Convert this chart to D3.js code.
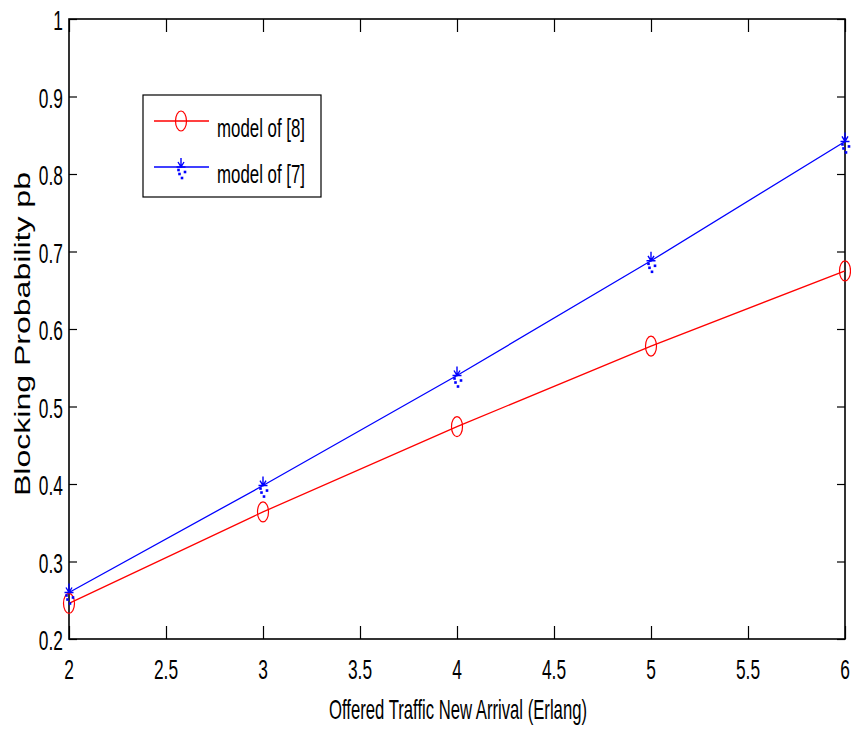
<!DOCTYPE html>
<html>
<head>
<meta charset="utf-8">
<script src="https://d3js.org/d3.v7.min.js"></script>
<style>
  body { margin: 0; background: #fff; }
  text { font-family: "Liberation Sans", Arial, sans-serif; fill: #000; }
</style>
</head>
<body>
<div id="chart"></div>
<script>
  // ---- data ----
  var traffic = [2, 3, 4, 5, 6];
  var model8 = [0.246, 0.364, 0.474, 0.578, 0.675];
  var model7 = [0.260, 0.398, 0.540, 0.688, 0.842];
  var xTicks = [2, 2.5, 3, 3.5, 4, 4.5, 5, 5.5, 6];
  var yTicks = [0.2, 0.3, 0.4, 0.5, 0.6, 0.7, 0.8, 0.9, 1];
  var legendNames = ["model of [8]", "model of [7]"];

  var W = 851, H = 730;
  var margin = { top: 19, right: 6, bottom: 91, left: 69 };
  var width = W - margin.left - margin.right,
    height = H - margin.top - margin.bottom;

  var svg = d3.select("#chart").append("svg")
    .attr("width", W)
    .attr("height", H);

  var g = svg.append("g")
    .attr("transform", "translate(" + margin.left + "," + margin.top + ")");

  var x = d3.scaleLinear().domain([2, 6]).range([0, width]);
  var y = d3.scaleLinear().domain([0.2, 1]).range([height, 0]);

  // inward ticks on all four sides, labels drawn separately
  function styleAxis(sel) {
    sel.select(".domain").remove();
    sel.selectAll(".tick line").attr("stroke", "#000").attr("stroke-width", 1.2);
  }
  g.append("g").attr("transform", "translate(0," + height + ")")
    .call(d3.axisBottom(x).tickValues(xTicks).tickSize(-13).tickFormat("")).call(styleAxis);
  g.append("g")
    .call(d3.axisTop(x).tickValues(xTicks).tickSize(-13).tickFormat("")).call(styleAxis);
  g.append("g")
    .call(d3.axisLeft(y).tickValues(yTicks).tickSize(-8).tickFormat("")).call(styleAxis);
  g.append("g").attr("transform", "translate(" + width + ",0)")
    .call(d3.axisRight(y).tickValues(yTicks).tickSize(-8).tickFormat("")).call(styleAxis);

  g.append("rect")
    .attr("width", width)
    .attr("height", height)
    .attr("fill", "none")
    .attr("stroke", "#000")
    .attr("stroke-width", 1.6);

  // condensed tick labels
  function label(parent, px, py, str, size, anchor, sx) {
    return parent.append("text")
      .attr("transform", "translate(" + px + "," + py + ") scale(" + sx + ",1)")
      .attr("text-anchor", anchor)
      .style("font-size", size + "px")
      .text(str);
  }
  xTicks.forEach(function(d) {
    label(g, x(d), height + 40, d, 28, "middle", 0.62);
  });
  yTicks.forEach(function(d) {
    label(g, -6, y(d) + 11, d, 28, "end", 0.62);
  });

  // axis titles
  svg.append("text")
    .attr("x", margin.left + width / 2 + 1)
    .attr("y", 719)
    .attr("text-anchor", "middle")
    .attr("textLength", 258)
    .attr("lengthAdjust", "spacingAndGlyphs")
    .style("font-size", "28px")
    .text("Offered Traffic New Arrival (Erlang)");

  svg.append("text")
    .attr("transform", "translate(30,334) rotate(-90)")
    .attr("text-anchor", "middle")
    .attr("textLength", 324)
    .attr("lengthAdjust", "spacingAndGlyphs")
    .style("font-size", "22px")
    .text("Blocking Probability pb");

  // series
  var pts8 = traffic.map(function(d, i) { return [d, model8[i]]; });
  var pts7 = traffic.map(function(d, i) { return [d, model7[i]]; });
  var line = d3.line().x(function(d) { return x(d[0]); }).y(function(d) { return y(d[1]); });

  g.append("path").datum(pts8).attr("d", line)
    .attr("fill", "none").attr("stroke", "#ff0000").attr("stroke-width", 1.3);
  g.append("path").datum(pts7).attr("d", line)
    .attr("fill", "none").attr("stroke", "#0000ff").attr("stroke-width", 1.3);

  function circleMark(parent) {
    parent.append("ellipse")
      .attr("rx", 5.5).attr("ry", 10)
      .attr("fill", "none").attr("stroke", "#ff0000").attr("stroke-width", 1.2);
  }
  function starMark(parent) {
    parent.append("path")
      .attr("d", "M0,-9V1 M-4.5,0H4.5 M-3,-5L0,0L3,-5")
      .attr("fill", "none").attr("stroke", "#0000ff").attr("stroke-width", 1.4);
    [[-2.5, 3], [4, 5], [-1.5, 7], [1, 11]].forEach(function(p) {
      parent.append("rect")
        .attr("x", p[0] - 1.3).attr("y", p[1] - 1.3)
        .attr("width", 2.6).attr("height", 2.6)
        .attr("fill", "#0000ff");
    });
  }

  g.selectAll(".m8").data(pts8).enter().append("g")
    .attr("transform", function(d) { return "translate(" + x(d[0]) + "," + y(d[1]) + ")"; })
    .each(function() { circleMark(d3.select(this)); });
  g.selectAll(".m7").data(pts7).enter().append("g")
    .attr("transform", function(d) { return "translate(" + x(d[0]) + "," + y(d[1]) + ")"; })
    .each(function() { starMark(d3.select(this)); });

  // legend
  var legend = svg.append("g").attr("transform", "translate(143,95)");
  legend.append("rect")
    .attr("width", 178).attr("height", 102)
    .attr("fill", "#fff").attr("stroke", "#000").attr("stroke-width", 1.2);

  var rows = [
    { name: legendNames[0], color: "#ff0000", mark: circleMark, ly: 26, ty: 42 },
    { name: legendNames[1], color: "#0000ff", mark: starMark, ly: 72, ty: 88 }
  ];
  rows.forEach(function(r) {
    legend.append("line")
      .attr("x1", 11).attr("x2", 66).attr("y1", r.ly).attr("y2", r.ly)
      .attr("stroke", r.color).attr("stroke-width", 1.3);
    r.mark(legend.append("g").attr("transform", "translate(38," + r.ly + ")"));
    legend.append("text")
      .attr("x", 74).attr("y", r.ty)
      .attr("textLength", 88)
      .attr("lengthAdjust", "spacingAndGlyphs")
      .style("font-size", "26px")
      .text(r.name);
  });
</script>
</body>
</html>
